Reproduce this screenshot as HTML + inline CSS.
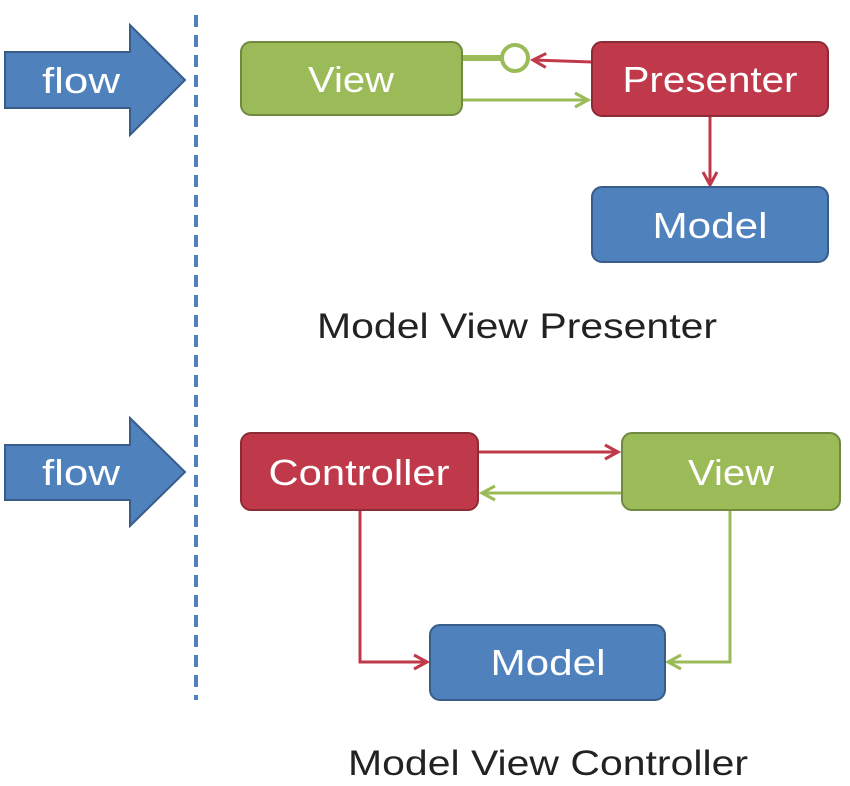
<!DOCTYPE html>
<html><head><style>
body{margin:0;background:#fff;}
svg{display:block;}
text{font-family:"Liberation Sans",sans-serif;}
</style></head><body>
<svg width="850" height="786" viewBox="0 0 850 786">
<defs>
<marker id="r" markerWidth="18" markerHeight="18" refX="15" refY="9" orient="auto" markerUnits="userSpaceOnUse" viewBox="0 0 18 18"><path d="M2,2 L15,9 L2,16" fill="none" stroke="#c0394b" stroke-width="3"/></marker>
<marker id="g" markerWidth="18" markerHeight="18" refX="15" refY="9" orient="auto" markerUnits="userSpaceOnUse" viewBox="0 0 18 18"><path d="M2,2 L15,9 L2,16" fill="none" stroke="#9bbb59" stroke-width="3"/></marker>
</defs>
<line x1="196" y1="15" x2="196" y2="700" stroke="#4f81bd" stroke-width="4" stroke-dasharray="12,8"/>
<path d="M5,52 L130,52 L130,25 L185,80 L130,135 L130,108 L5,108 Z" fill="#4f81bd" stroke="#385d8a" stroke-width="2"/>
<text x="81" y="93" font-size="36" fill="#fff" text-anchor="middle" textLength="78" lengthAdjust="spacingAndGlyphs">flow</text>
<path d="M5,445 L130,445 L130,418 L185,472 L130,526 L130,500 L5,500 Z" fill="#4f81bd" stroke="#385d8a" stroke-width="2"/>
<text x="81" y="485" font-size="36" fill="#fff" text-anchor="middle" textLength="78" lengthAdjust="spacingAndGlyphs">flow</text>
<line x1="462" y1="58" x2="502" y2="58" stroke="#9bbb59" stroke-width="6"/>
<circle cx="515" cy="58" r="13" fill="#fff" stroke="#9bbb59" stroke-width="4"/>
<line x1="592" y1="62" x2="533" y2="60" stroke="#c0394b" stroke-width="3" marker-end="url(#r)"/>
<line x1="462" y1="100" x2="588" y2="100" stroke="#9bbb59" stroke-width="3" marker-end="url(#g)"/>
<line x1="710" y1="116" x2="710" y2="185" stroke="#c0394b" stroke-width="3" marker-end="url(#r)"/>
<rect x="241" y="42" width="221" height="73" rx="10" fill="#9bbb59" stroke="#71893f" stroke-width="2"/>
<text x="351" y="92" font-size="36" fill="#fff" text-anchor="middle" textLength="86" lengthAdjust="spacingAndGlyphs">View</text>
<rect x="592" y="42" width="236" height="74" rx="10" fill="#c0394b" stroke="#8c2a36" stroke-width="2"/>
<text x="710" y="92" font-size="36" fill="#fff" text-anchor="middle" textLength="175" lengthAdjust="spacingAndGlyphs">Presenter</text>
<rect x="592" y="187" width="236" height="75" rx="10" fill="#4f81bd" stroke="#385d8a" stroke-width="2"/>
<text x="710" y="238" font-size="36" fill="#fff" text-anchor="middle" textLength="115" lengthAdjust="spacingAndGlyphs">Model</text>
<text x="517" y="338" font-size="35" fill="#222" text-anchor="middle" textLength="400" lengthAdjust="spacingAndGlyphs">Model View Presenter</text>
<line x1="478" y1="452" x2="618" y2="452" stroke="#c0394b" stroke-width="3" marker-end="url(#r)"/>
<line x1="622" y1="493" x2="482" y2="493" stroke="#9bbb59" stroke-width="3" marker-end="url(#g)"/>
<polyline points="360,510 360,662 427,662" fill="none" stroke="#c0394b" stroke-width="3" marker-end="url(#r)"/>
<polyline points="730,510 730,662 668,662" fill="none" stroke="#9bbb59" stroke-width="3" marker-end="url(#g)"/>
<rect x="241" y="433" width="237" height="77" rx="10" fill="#c0394b" stroke="#8c2a36" stroke-width="2"/>
<text x="359" y="485" font-size="36" fill="#fff" text-anchor="middle" textLength="181" lengthAdjust="spacingAndGlyphs">Controller</text>
<rect x="622" y="433" width="218" height="77" rx="10" fill="#9bbb59" stroke="#71893f" stroke-width="2"/>
<text x="731" y="485" font-size="36" fill="#fff" text-anchor="middle" textLength="86" lengthAdjust="spacingAndGlyphs">View</text>
<rect x="430" y="625" width="235" height="75" rx="10" fill="#4f81bd" stroke="#385d8a" stroke-width="2"/>
<text x="548" y="675" font-size="36" fill="#fff" text-anchor="middle" textLength="115" lengthAdjust="spacingAndGlyphs">Model</text>
<text x="548" y="775" font-size="35" fill="#222" text-anchor="middle" textLength="400" lengthAdjust="spacingAndGlyphs">Model View Controller</text>
</svg>
</body></html>
